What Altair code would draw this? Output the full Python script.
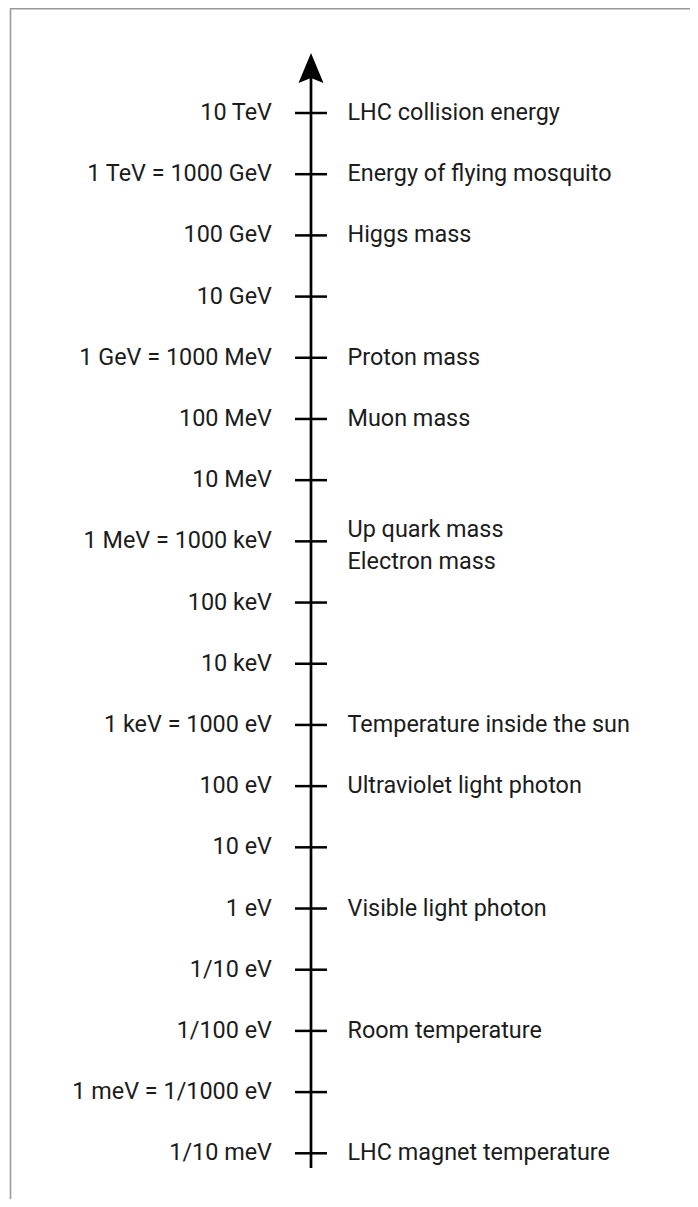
import altair as alt
import pandas as pd

# Energy scale data (values in eV)
energies_ev = [1e13, 1e12, 1e11, 1e10, 1e9, 1e8, 1e7, 1e6, 1e5, 1e4, 1e3, 1e2, 1e1, 1e0, 1e-1, 1e-2, 1e-3, 1e-4]
left_labels = ["10 TeV", "1 TeV = 1000 GeV", "100 GeV", "10 GeV", "1 GeV = 1000 MeV",
               "100 MeV", "10 MeV", "1 MeV = 1000 keV", "100 keV", "10 keV",
               "1 keV = 1000 eV", "100 eV", "10 eV", "1 eV", "1/10 eV", "1/100 eV",
               "1 meV = 1/1000 eV", "1/10 meV"]
right_labels = ["LHC collision energy", "Energy of flying mosquito", "Higgs mass", "",
                "Proton mass", "Muon mass", "", "Up quark mass\nElectron mass", "", "",
                "Temperature inside the sun", "Ultraviolet light photon", "",
                "Visible light photon", "", "Room temperature", "", "LHC magnet temperature"]

df = pd.DataFrame({"energy": energies_ev, "left": left_labels, "right": right_labels})

W, H = 682, 1191
FONT = "Roboto"
FS = 23.4
TXT = "#1c1c1c"
AX_X = 303

yscale = alt.Scale(type="log", domain=[10 ** -4.747, 10 ** 14.716], nice=False, range=[H, 0])
Y = alt.Y("energy:Q", scale=yscale, axis=None)

base = alt.Chart(df)

axis_line = alt.Chart(pd.DataFrame({"lo": [10 ** -4.241], "hi": [10 ** 13.6]})).mark_rule(
    color="black", strokeWidth=2.7
).encode(
    x=alt.value(AX_X),
    y=alt.Y("lo:Q", scale=yscale, axis=None),
    y2="hi:Q",
)

arrow_path = "M0,-1 L0.833,1 L0,0.667 L-0.833,1 Z"
arrow = alt.Chart(pd.DataFrame({"tip": [10 ** 13.736]})).mark_point(
    shape=arrow_path, filled=True, size=900, color="black", opacity=1, strokeWidth=0
).encode(
    x=alt.value(AX_X),
    y=alt.Y("tip:Q", scale=yscale, axis=None),
)

ticks = base.mark_rule(color="black", strokeWidth=2.5).encode(
    x=alt.value(287), x2=alt.value(319), y=Y
)

left_text = base.mark_text(
    align="right", baseline="middle", font=FONT, fontSize=FS, color=TXT
).encode(x=alt.value(264), y=Y, text="left:N")

right_single = base.transform_filter(
    "indexof(datum.right, '\\n') < 0"
).mark_text(
    align="left", baseline="middle", font=FONT, fontSize=FS, color=TXT
).encode(x=alt.value(339.5), y=Y, text="right:N")

right_multi = base.transform_filter(
    "indexof(datum.right, '\\n') >= 0"
).mark_text(
    align="left", baseline="middle", font=FONT, fontSize=FS, color=TXT,
    lineBreak="\n", lineHeight=32, dy=-11.5
).encode(x=alt.value(339.5), y=Y, text="right:N")

border_left = alt.Chart(pd.DataFrame({"a": [0]})).mark_rule(color="#9a9a9a", strokeWidth=1.6).encode(
    x=alt.value(2.5), y=alt.value(0), y2=alt.value(H)
)
border_top = alt.Chart(pd.DataFrame({"a": [0]})).mark_rule(color="#9a9a9a", strokeWidth=1.6).encode(
    x=alt.value(2), x2=alt.value(W), y=alt.value(0.8)
)

chart = alt.layer(
    border_left, border_top, axis_line, arrow, ticks, left_text, right_single, right_multi
).properties(
    width=W, height=H, padding=0, autosize=alt.AutoSizeParams(type="none")
).configure_view(stroke=None)

chart.save("out.html", embed_options={"renderer": "svg", "actions": False})
